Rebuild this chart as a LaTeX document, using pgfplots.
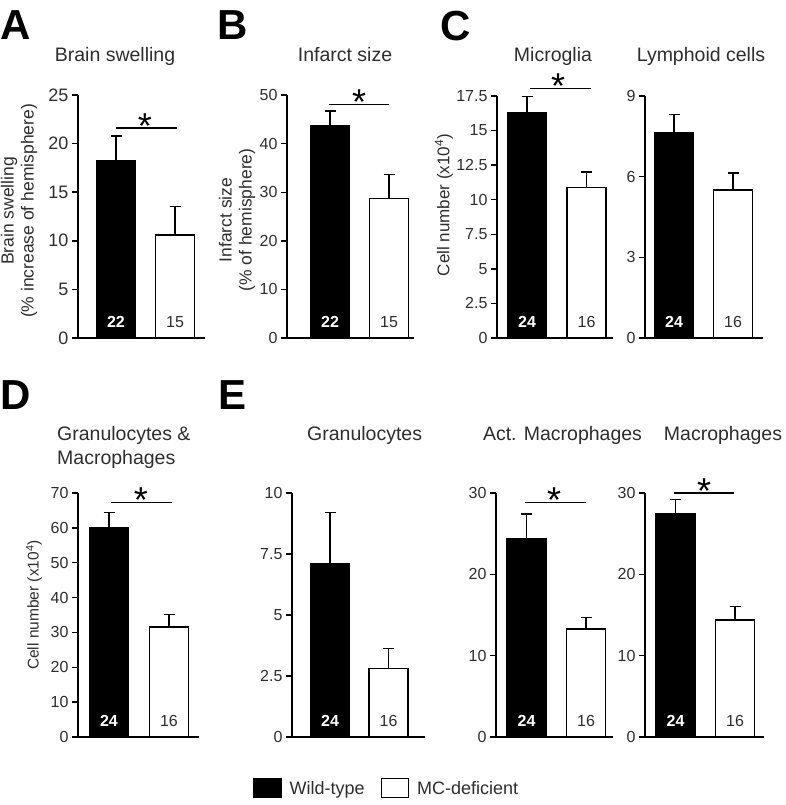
\documentclass[border=0pt]{standalone}
\usepackage{fontspec}
\setmainfont{Liberation Sans}
\usepackage{pgfplots}
\pgfplotsset{compat=1.18}
\definecolor{txt}{RGB}{45,45,45}
\pgfplotsset{
 panel/.style={scale only axis, axis lines*=left,
  axis line style={-, line width=1.4pt, black},
  ybar, bar width=39pt, bar shift=0pt, xmin=0, ymin=0, xtick=\empty,
  tick align=outside, major tick length=6pt,
  ytick style={line width=1.4pt, black}, clip=false, enlargelimits=false,
  /pgf/number format/assume math mode=true,
  yticklabel style={font=\fontsize{16}{16}\selectfont, text=txt},
  every axis plot/.append style={line width=1.4pt},
  error bars/y dir=plus, error bars/y explicit,
  error bars/error bar style={line width=1.4pt, black},
  error bars/error mark options={rotate=90, black, line width=1.4pt, mark size=5.5pt},
  legend image code/.code={\draw[line width=1.2pt,##1] (0pt,-9pt) rectangle (27pt,10pt); \path (33pt,0pt);},
 },
 wt/.style={fill=black, draw=black},
 mc/.style={fill=white, draw=black},
}
\newcommand{\sig}[4]{% x1, x2, y, xstar
 \draw[line width=1.1pt, black] (axis cs:#1,#3) -- (axis cs:#2,#3);
 \node[anchor=base, inner sep=0pt, yshift=-10pt, font=\fontsize{36}{36}\selectfont] at (axis cs:#4,#3) {*};}
\newcommand{\nw}[2]{\node[yshift=16pt, text=white, font=\fontsize{16}{16}\selectfont\bfseries] at (axis cs:#1,0) {#2};}
\newcommand{\nb}[2]{\node[yshift=16pt, text=txt, font=\fontsize{16}{16}\selectfont] at (axis cs:#1,0) {#2};}
\begin{document}
\begin{tikzpicture}
\path[use as bounding box] (0pt,0pt) rectangle (786pt,-805pt);
% panel letters
\begin{scope}[every node/.style={anchor=base west, inner sep=0pt, font=\bfseries\fontsize{42}{42}\selectfont}]
\node at (0pt,-40pt) {A};
\node at (217pt,-40pt) {B};
\node at (440pt,-41pt) {C};
\node at (0pt,-409pt) {D};
\node at (218pt,-409pt) {E};
\end{scope}
% titles
\begin{scope}[every node/.style={anchor=base, inner sep=0pt, text=txt, font=\fontsize{19.5}{19.5}\selectfont}]
\node at (115pt,-62pt) {Brain swelling};
\node at (345pt,-62pt) {Infarct size};
\node at (553pt,-62pt) {Microglia};
\node at (701pt,-62pt) {Lymphoid cells};
\node[anchor=base west] at (57pt,-440pt) {Granulocytes \&};
\node[anchor=base west] at (57pt,-464pt) {Macrophages};
\node[anchor=base west] at (307pt,-440pt) {Granulocytes};
\node at (562.5pt,-440pt) {Act. Macrophages};
\node at (723pt,-440pt) {Macrophages};
\end{scope}
% y labels
\node[rotate=90, align=center, text=txt, font=\fontsize{17.5}{20}\selectfont] at (19pt,-211pt) {Brain swelling\\(\% increase of hemisphere)};
\node[rotate=90, align=center, text=txt, font=\fontsize{17.5}{20}\selectfont] at (237pt,-220pt) {Infarct size\\(\% of hemisphere)};
\node[rotate=90, text=txt, font=\fontsize{17}{17}\selectfont] at (444pt,-205pt) {Cell number (x10\textsuperscript{4})};
\node[rotate=90, text=txt, font=\fontsize{15.5}{15.5}\selectfont] at (34pt,-605pt) {Cell number (x10\textsuperscript{4})};

% A
\begin{axis}[panel, at={(78pt,-338pt)}, anchor=south west, width=127pt, height=243pt,
  xmax=127, ymax=25, ytick={0,5,10,15,20,25},
  yticklabel style={font=\fontsize{18}{18}\selectfont}]
\addplot[wt] coordinates {(38,18.2) +- (0,2.6)};
\addplot[mc] coordinates {(97,10.6) +- (0,2.9)};
\sig{38}{99}{21.6}{67}
\nw{38}{22}\nb{97}{15}
\end{axis}
% B
\begin{axis}[panel, at={(287pt,-338pt)}, anchor=south west, width=127pt, height=243pt,
  xmax=127, ymax=50, ytick={0,10,20,30,40,50}]
\addplot[wt] coordinates {(43,43.7) +- (0,3.0)};
\addplot[mc] coordinates {(102,28.7) +- (0,4.9)};
\sig{42}{102}{48.1}{72}
\nw{43}{22}\nb{102}{15}
\end{axis}
% C Microglia
\begin{axis}[panel, at={(497pt,-338pt)}, anchor=south west, width=116pt, height=242pt,
  xmax=116, ymax=17.5, ytick={0,2.5,5,7.5,10,12.5,15,17.5}]
\addplot[wt] coordinates {(30,16.3) +- (0,1.15)};
\addplot[mc] coordinates {(89.5,10.9) +- (0,1.1)};
\sig{33}{94}{18.03}{61}
\nw{30}{24}\nb{89.5}{16}
\end{axis}
% C Lymphoid
\begin{axis}[panel, at={(645pt,-338pt)}, anchor=south west, width=118pt, height=242pt,
  xmax=118, ymax=9, ytick={0,3,6,9}]
\addplot[wt] coordinates {(29,7.63) +- (0,0.68)};
\addplot[mc] coordinates {(88,5.5) +- (0,0.64)};
\nw{29}{24}\nb{88}{16}
\end{axis}
% D
\begin{axis}[panel, at={(78pt,-737pt)}, anchor=south west, width=121pt, height=244pt,
  xmax=121, ymax=70, ytick={0,10,20,30,40,50,60,70}]
\addplot[wt] coordinates {(31,60.1) +- (0,4.3)};
\addplot[mc] coordinates {(91,31.6) +- (0,3.5)};
\sig{33}{94}{67.4}{63}
\nw{31}{24}\nb{91}{16}
\end{axis}
% E Granulocytes
\begin{axis}[panel, at={(292pt,-737pt)}, anchor=south west, width=133pt, height=244pt,
  xmax=133, ymax=10, ytick={0,2.5,5,7.5,10}]
\addplot[wt] coordinates {(38,7.11) +- (0,2.1)};
\addplot[mc] coordinates {(96.5,2.82) +- (0,0.81)};
\nw{38}{24}\nb{96.5}{16}
\end{axis}
% E Act. Macrophages
\begin{axis}[panel, at={(496pt,-737pt)}, anchor=south west, width=117pt, height=244pt,
  xmax=117, ymax=30, ytick={0,10,20,30}]
\addplot[wt] coordinates {(30.5,24.34) +- (0,3.06)};
\addplot[mc] coordinates {(90,13.28) +- (0,1.39)};
\sig{29}{90}{28.8}{58}
\nw{30.5}{24}\nb{90}{16}
\end{axis}
% E Macrophages
\begin{axis}[panel, at={(645pt,-737pt)}, anchor=south west, width=119pt, height=244pt,
  xmax=119, ymax=30, ytick={0,10,20,30},
  legend columns=2,
  legend style={at={(axis description cs:-2.17,-0.209)}, anchor=center, draw=none, fill=none,
    font=\fontsize{18}{18}\selectfont, text=txt,
    /tikz/every even column/.append style={column sep=14pt}}]
\addplot[wt] coordinates {(30.5,27.46) +- (0,1.73)};
\addlegendentry{Wild-type}
\addplot[mc] coordinates {(90,14.39) +- (0,1.68)};
\addlegendentry{MC-deficient}
\sig{29}{89}{30.0}{59}
\nw{30.5}{24}\nb{90}{16}
\end{axis}
\end{tikzpicture}
\end{document}
